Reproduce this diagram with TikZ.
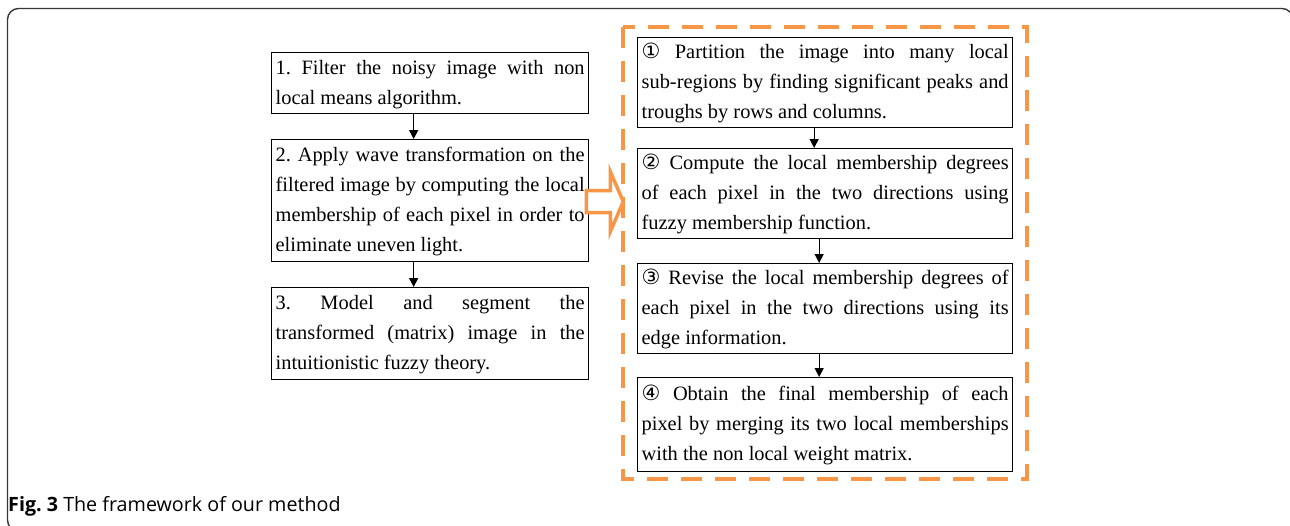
\documentclass[tikz,border=0pt]{standalone}
\usepackage{fontspec}
\setmainfont{Liberation Serif}
\newfontfamily\circfont{DejaVu Sans}
\newfontfamily\capfont{Open Sans}
\usetikzlibrary{arrows.meta}
\setlength{\parindent}{0pt}
\frenchspacing
\definecolor{dorange}{RGB}{247,150,70}
\definecolor{framegray}{RGB}{55,55,55}
\def\bw{300pt}
\newcommand\jl[1]{\makebox[\bw][s]{\strut#1}\\}
\newcommand\lastl[1]{\strut#1}
\newcommand\cn[1]{{\circfont\fontsize{21}{30}\selectfont#1}}
\begin{document}
\begin{tikzpicture}[x=1pt,y=-1pt,
  boxbase/.style={draw=black, line width=1.3pt, anchor=north west, inner xsep=4pt, inner ysep=0pt,
    align=justify, font=\fontsize{20.4}{30}\selectfont\frenchspacing},
  leftbox/.style={boxbase, text width=309pt, execute at begin node={\def\bw{309pt}}},
  rightbox/.style={boxbase, text width=367pt, execute at begin node={\def\bw{367pt}}},
  flowarrow/.style={draw=black, line width=1.3pt, -{Triangle[length=9pt,width=9pt]}},
  groupframe/.style={draw=dorange, line width=4pt, dash pattern=on 21pt off 13pt},
  blockarrow/.style={draw=dorange, fill=white, line width=3.5pt, line join=miter},
  outerframe/.style={draw=framegray, line width=1.4pt, rounded corners=11pt}
]
\useasboundingbox (0,0) rectangle (1290,525);
\draw[outerframe] (7.5,8.5) rectangle (1293,531);

% left column
\node[leftbox, minimum height=61pt] (b1) at (271,52) {%
  \jl{1. Filter the noisy image with non}
  \lastl{local means algorithm.}};
\node[leftbox, minimum height=122pt] (b2) at (271,139) {%
  \jl{2. Apply wave transformation on the}
  \jl{filtered image by computing the local}
  \jl{membership of each pixel in order to}
  \lastl{eliminate uneven light.}};
\node[leftbox, minimum height=92pt] (b3) at (271,287) {%
  \jl{3. Model and segment the}
  \jl{transformed (matrix) image in the}
  \lastl{intuitionistic fuzzy theory.}};

\draw[flowarrow] ([xshift=-16.5pt]b1.south) -- ([xshift=-16.5pt]b2.north);
\draw[flowarrow] ([xshift=-16.5pt]b2.south) -- ([xshift=-16.5pt]b3.north);

% right column
\draw[groupframe] (623,27) rectangle (1027,479);
\node[rightbox, minimum height=90pt] (r1) at (637,37) {%
  \jl{\cn{①} Partition the image into many local}
  \jl{sub-regions by finding significant peaks and}
  \lastl{troughs by rows and columns.}};
\node[rightbox, minimum height=90pt] (r2) at (637,148) {%
  \jl{\cn{②} Compute the local membership degrees}
  \jl{of each pixel in the two directions using}
  \lastl{fuzzy membership function.}};
\node[rightbox, minimum height=90pt] (r3) at (637,263) {%
  \jl{\cn{③} Revise the local membership degrees of}
  \jl{each pixel in the two directions using its}
  \lastl{edge information.}};
\node[rightbox, minimum height=94pt] (r4) at (637,377) {%
  \jl{\cn{④} Obtain the final membership of each}
  \jl{pixel by merging its two local memberships}
  \lastl{with the non local weight matrix.}};

\draw[flowarrow] ([xshift=-11pt]r1.south) -- ([xshift=-11pt]r2.north);
\draw[flowarrow] ([xshift=-6pt]r2.south) -- ([xshift=-6pt]r3.north);
\draw[flowarrow] ([xshift=-6pt]r3.south) -- ([xshift=-6pt]r4.north);

% block arrow from step 2 to the group
\coordinate (ba) at ([xshift=-3pt,yshift=-1pt]b2.east);
\draw[blockarrow] (ba) ++(0,-11) -- ++(24,0) -- ++(0,-19) -- ++(13,30) -- ++(-13,30)
  -- ++(0,-19) -- ++(-24,0) -- cycle;

% caption
\node[anchor=base west, inner sep=0pt, font=\capfont\fontsize{19.7}{23}\selectfont] (cap) at (8,511)
  {\textbf{Fig. 3} The framework of our method};
\end{tikzpicture}
\end{document}
